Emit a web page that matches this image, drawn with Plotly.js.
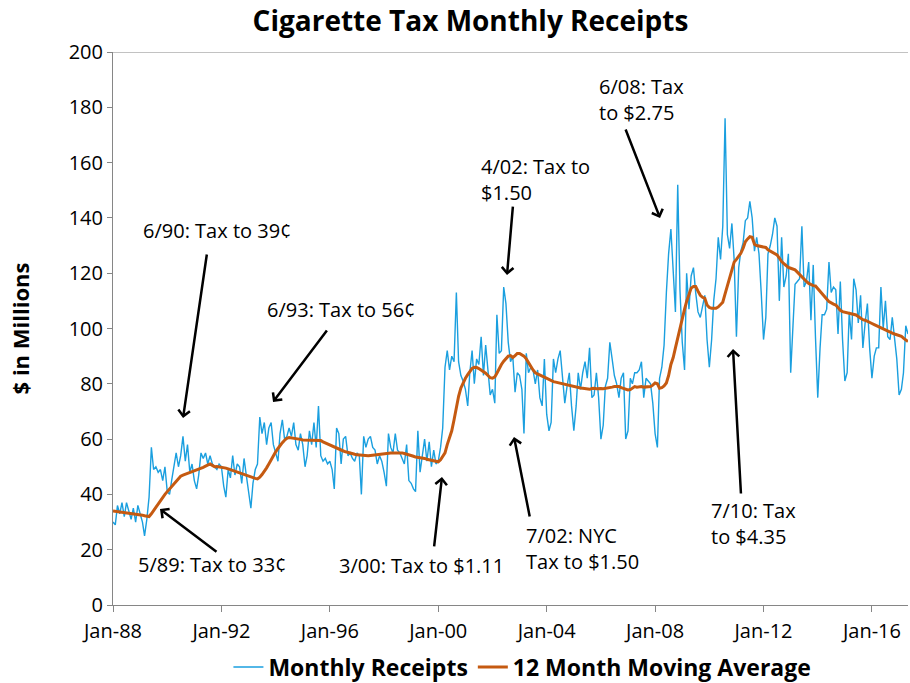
<!DOCTYPE html>
<html>
<head>
<meta charset="utf-8">
<script src="https://cdn.plot.ly/plotly-3.0.1.min.js"></script>
<style>
html,body{margin:0;padding:0;background:#fff;}
#chart{width:910px;height:683px;}
</style>
</head>
<body>
<div id="chart"></div>
<script>
// ---- Data, monthly values in $ millions ----
const startYear = 1988;
const receipts1988 = [30, 29, 36, 33, 37, 32, 37, 34, 31, 35, 30, 36];
const receipts1989 = [33, 30, 25, 31, 39, 57, 49, 50, 48, 49, 45, 50];
const receipts1990 = [41, 40, 45, 51, 55, 50, 54, 61, 52, 58, 48, 51];
const receipts1991 = [45, 42, 47, 55, 53, 55, 51, 54, 51, 50, 49, 51];
const receipts1992 = [50, 43, 39, 49, 46, 54, 47, 51, 50, 44, 53, 47];
const receipts1993 = [40, 35, 44, 49, 51, 68, 62, 66, 58, 64, 66, 58];
const receipts1994 = [55, 52, 62, 67, 60, 61, 64, 61, 66, 58, 56, 62];
const receipts1995 = [58, 50, 54, 63, 58, 66, 57, 72, 54, 52, 53, 51];
const receipts1996 = [52, 49, 42, 64, 62, 51, 60, 61, 54, 55, 53, 52];
const receipts1997 = [55, 54, 40, 61, 57, 60, 61, 57, 56, 51, 54, 52];
const receipts1998 = [48, 43, 62, 57, 55, 62, 56, 55, 53, 51, 58, 45];
const receipts1999 = [44, 42, 41, 63, 48, 55, 60, 52, 59, 50, 56, 51];
const receipts2000 = [52, 57, 64, 86, 92, 85, 90, 88, 113, 88, 83, 81];
const receipts2001 = [78, 72, 84, 92, 80, 89, 87, 97, 83, 94, 86, 76];
const receipts2002 = [78, 73, 105, 91, 92, 115, 109, 95, 88, 90, 77, 84];
const receipts2003 = [83, 78, 62, 91, 84, 86, 85, 80, 85, 75, 72, 89];
const receipts2004 = [69, 63, 66, 89, 84, 89, 92, 81, 73, 79, 84, 72];
const receipts2005 = [63, 72, 84, 78, 84, 88, 82, 93, 75, 76, 84, 75];
const receipts2006 = [60, 65, 79, 82, 95, 89, 83, 80, 75, 82, 84, 60];
const receipts2007 = [63, 82, 80, 84, 84, 85, 88, 75, 82, 81, 80, 73];
const receipts2008 = [62, 57, 82, 86, 94, 113, 127, 136, 119, 106, 152, 114];
const receipts2009 = [95, 85, 120, 107, 119, 122, 113, 106, 104, 108, 112, 96];
const receipts2010 = [86, 96, 110, 118, 133, 125, 137, 176, 134, 129, 138, 125];
const receipts2011 = [97, 122, 128, 131, 139, 140, 146, 140, 128, 133, 127, 113];
const receipts2012 = [96, 104, 127, 130, 134, 140, 137, 110, 133, 115, 119, 127];
const receipts2013 = [84, 101, 116, 117, 118, 137, 115, 117, 124, 103, 123, 97];
const receipts2014 = [75, 93, 105, 105, 107, 124, 113, 115, 114, 98, 117, 96];
const receipts2015 = [81, 84, 106, 96, 118, 114, 102, 112, 93, 102, 109, 93];
const receipts2016 = [82, 90, 93, 93, 115, 100, 110, 97, 96, 104, 96, 89];
const receipts2017 = [76, 78, 84, 101, 98];

const movAvg1988 = [34, 33.9, 33.8, 33.7, 33.6, 33.5, 33.4, 33.3, 33.2, 33.1, 33, 32.9];
const movAvg1989 = [32.7, 32.5, 32.3, 32.1, 32, 33, 34.2, 35.3, 36.4, 37.5, 38.8, 40];
const movAvg1990 = [41, 42, 43, 44, 45, 45.8, 46.6, 47, 47.3, 47.6, 47.8, 48.1];
const movAvg1991 = [48.4, 48.8, 49.1, 49.4, 49.8, 50.2, 50.6, 51, 50.5, 50, 50.1, 50];
const movAvg1992 = [49.8, 49.6, 49.5, 49.2, 48.9, 48.6, 48.3, 48, 47.9, 47.6, 47.2, 46.9];
const movAvg1993 = [46.6, 46.3, 46, 45.8, 45.6, 46.2, 47.2, 48.2, 49.6, 51, 52.6, 54.2];
const movAvg1994 = [55.4, 56.6, 57.7, 58.7, 59.6, 60.3, 60.6, 60.5, 60.3, 60.2, 60.1, 59.9];
const movAvg1995 = [59.7, 59.7, 59.6, 59.6, 59.6, 59.7, 59.6, 59.7, 59.5, 59, 58.6, 58.3];
const movAvg1996 = [58, 57.6, 57.2, 56.8, 56.5, 56.1, 55.7, 55.4, 55.1, 54.9, 54.7, 54.5];
const movAvg1997 = [54.3, 54.2, 54.1, 54, 54, 54, 54.1, 54.2, 54.3, 54.4, 54.5, 54.7];
const movAvg1998 = [54.9, 54.8, 54.9, 55, 55, 55, 55.1, 55.1, 55, 54.8, 54.6, 54.3];
const movAvg1999 = [54, 53.8, 53.5, 53.4, 53.3, 53.2, 53, 52.7, 52.5, 52.3, 52, 51.8];
const movAvg2000 = [51.8, 52.5, 53.5, 55, 58, 60.5, 63, 67, 71.7, 75.5, 78.5, 80.5];
const movAvg2001 = [82, 83.3, 84.5, 85.6, 86, 85.9, 85.5, 85, 84.5, 83.8, 83, 82.2];
const movAvg2002 = [82, 82.5, 83.8, 85.5, 87, 88.2, 89.3, 90, 90.2, 89.5, 90.2, 91];
const movAvg2003 = [91, 90.5, 90, 89, 87.5, 86.2, 85, 84, 83.5, 83.2, 82.8, 82.4];
const movAvg2004 = [82, 81.6, 81, 80.8, 80.6, 80.4, 80.2, 79.8, 79.6, 79.5, 79.3, 79.1];
const movAvg2005 = [79, 78.8, 78.7, 78.5, 78.4, 78.3, 78.2, 78, 78.3, 78.4, 78.2, 78.3];
const movAvg2006 = [78.3, 78.2, 78.4, 78.5, 78.6, 78.8, 79, 79, 79, 78.6, 78.4, 78];
const movAvg2007 = [77.8, 77.9, 78.5, 79, 78.8, 78.9, 79, 78.8, 78.9, 79.1, 79, 79.5];
const movAvg2008 = [80.3, 80, 78.4, 78.6, 79.2, 80.3, 83, 87, 89.5, 93, 96.5, 101];
const movAvg2009 = [104, 107, 109.8, 112, 114.6, 115.2, 115.2, 113.5, 112, 111.3, 110.9, 108.5];
const movAvg2010 = [107.6, 107.3, 107.2, 107.3, 107.8, 108.7, 109.5, 112.5, 115.5, 119, 121.5, 124];
const movAvg2011 = [125, 126, 127.2, 129, 131.4, 132.4, 133.2, 133, 130.5, 130, 129.8, 129.6];
const movAvg2012 = [129.5, 129.3, 128.5, 128, 127.5, 127.2, 126.6, 125.5, 124.2, 123.5, 122.8, 122.1];
const movAvg2013 = [121.8, 121.5, 121.2, 120.4, 119.5, 118.7, 117.9, 117, 116.3, 115.8, 115.5, 115.4];
const movAvg2014 = [114.5, 113.6, 112.7, 111.7, 110.7, 109.7, 109.2, 108.8, 108.5, 107.5, 106.6, 106.1];
const movAvg2015 = [105.9, 105.7, 105.5, 105.3, 105.1, 104.9, 104.3, 103.6, 103.2, 103, 102.5, 102];
const movAvg2016 = [101.8, 101.4, 101, 100.6, 100.2, 99.8, 99.5, 99.1, 98.7, 98.3, 98, 97.8];
const movAvg2017 = [97.6, 97.2, 96.5, 96, 95.3];

const seriesNames = ['Monthly Receipts', '12 Month Moving Average'];

// ---- Build series ----
const receiptsByYear = [receipts1988, receipts1989, receipts1990, receipts1991, receipts1992,
  receipts1993, receipts1994, receipts1995, receipts1996, receipts1997, receipts1998,
  receipts1999, receipts2000, receipts2001, receipts2002, receipts2003, receipts2004,
  receipts2005, receipts2006, receipts2007, receipts2008, receipts2009, receipts2010,
  receipts2011, receipts2012, receipts2013, receipts2014, receipts2015, receipts2016, receipts2017];
const movAvgByYear = [movAvg1988, movAvg1989, movAvg1990, movAvg1991, movAvg1992,
  movAvg1993, movAvg1994, movAvg1995, movAvg1996, movAvg1997, movAvg1998,
  movAvg1999, movAvg2000, movAvg2001, movAvg2002, movAvg2003, movAvg2004,
  movAvg2005, movAvg2006, movAvg2007, movAvg2008, movAvg2009, movAvg2010,
  movAvg2011, movAvg2012, movAvg2013, movAvg2014, movAvg2015, movAvg2016, movAvg2017];

const dates = [], receipts = [], movAvg = [];
receiptsByYear.forEach((arr, i) => {
  arr.forEach((v, m) => {
    const mm = String(m + 1).padStart(2, '0');
    dates.push((startYear + i) + '-' + mm + '-01');
    receipts.push(v);
    movAvg.push(movAvgByYear[i][m]);
  });
});

const FONT = '"Open Sans", "DejaVu Sans", sans-serif';

const traces = [
  { x: dates, y: receipts, type: 'scatter', mode: 'lines', name: seriesNames[0],
    line: { color: '#1A9FDF', width: 1.4 } },
  { x: dates, y: movAvg, type: 'scatter', mode: 'lines', name: seriesNames[1],
    line: { color: '#C55A11', width: 3 } }
];

const textNotes = [
  { text: '6/90: Tax to 39¢', x: 0.0352, y: 0.6780 },
  { text: '6/93: Tax to 56¢', x: 0.1910, y: 0.5352 },
  { text: '5/89: Tax to 33¢', x: 0.0290, y: 0.0741 },
  { text: '3/00: Tax to $1.11', x: 0.2818, y: 0.0723 },
  { text: '4/02: Tax to<br>$1.50', x: 0.4604, y: 0.7703 },
  { text: '7/02: NYC<br>Tax to $1.50', x: 0.5170, y: 0.1013 },
  { text: '6/08: Tax<br>to $2.75', x: 0.6089, y: 0.9141 },
  { text: '7/10: Tax<br>to $4.35', x: 0.7497, y: 0.1465 }
];
const arrowNotes = [
  { x: 0.0881, y: 0.3382, ax: 24, ay: -165 },
  { x: 0.2013, y: 0.3671, ax: 55, ay: -73 },
  { x: 0.0591, y: 0.1736, ax: 58, ay: 44 },
  { x: 0.4138, y: 0.2315, ax: -8, ay: 71 },
  { x: 0.4956, y: 0.5967, ax: 6, ay: -70 },
  { x: 0.5044, y: 0.3038, ax: 16, ay: 81 },
  { x: 0.6881, y: 0.6998, ax: -35, ay: -90 },
  { x: 0.7799, y: 0.4629, ax: 8, ay: 146 }
];

const annotations = [];
textNotes.forEach(n => annotations.push({
  xref: 'paper', yref: 'paper', x: n.x, y: n.y, xanchor: 'left', yanchor: 'middle',
  align: 'left', text: n.text, showarrow: false,
  font: { family: FONT, size: 20, color: '#000' }
}));
arrowNotes.forEach(a => annotations.push({
  xref: 'paper', yref: 'paper', x: a.x, y: a.y, ax: a.ax, ay: a.ay,
  axref: 'pixel', ayref: 'pixel', text: '', showarrow: true,
  arrowhead: 4, arrowsize: 0.9, arrowwidth: 2.5, arrowcolor: '#000', standoff: 0
}));

const layout = {
  width: 910, height: 683,
  margin: { l: 113, r: 2, t: 52, b: 78, autoexpand: false },
  paper_bgcolor: '#fff', plot_bgcolor: '#fff',
  font: { family: FONT, color: '#000', size: 20 },
  title: { text: 'Cigarette Tax Monthly Receipts', xref: 'container', x: 0.517, xanchor: 'center',
           yref: 'container', y: 0.969, yanchor: 'middle',
           font: { family: FONT, size: 28, weight: 'bold', color: '#000' } },
  showlegend: true,
  legend: { orientation: 'h', x: 0.515, xanchor: 'center',
            yref: 'container', y: 0.0234, yanchor: 'middle',
            font: { family: FONT, size: 23, weight: 'bold', color: '#000' },
            bgcolor: 'rgba(0,0,0,0)', itemwidth: 30, tracegroupgap: 0 },
  xaxis: {
    type: 'date', range: ['1988-01-01', '2017-05-01'], automargin: false,
    tick0: '1988-01-01', dtick: 'M48', tickformat: '%b-%y',
    showgrid: false, zeroline: false, showline: true, linecolor: '#868686', linewidth: 1,
    ticks: 'outside', ticklen: 6, tickcolor: '#868686', ticklabelstandoff: 2,
    tickfont: { family: FONT, size: 20, color: '#000' }, fixedrange: true
  },
  yaxis: {
    range: [0, 200], dtick: 20, showgrid: false, zeroline: false, automargin: false,
    showline: true, linecolor: '#868686', linewidth: 1,
    ticks: 'outside', ticklen: 5, tickcolor: '#868686',
    tickfont: { family: FONT, size: 20, color: '#000' },
    title: { text: '$ in Millions', standoff: 32,
             font: { family: FONT, size: 22, weight: 'bold', color: '#000' } },
    fixedrange: true
  },
  shapes: [
    { type: 'line', xref: 'paper', yref: 'y', x0: 0, x1: 1, y0: 200, y1: 200,
      line: { color: '#868686', width: 1 } }
  ],
  annotations: annotations
};

Plotly.newPlot('chart', traces, layout, { displayModeBar: false, staticPlot: true });
</script>
</body>
</html>
